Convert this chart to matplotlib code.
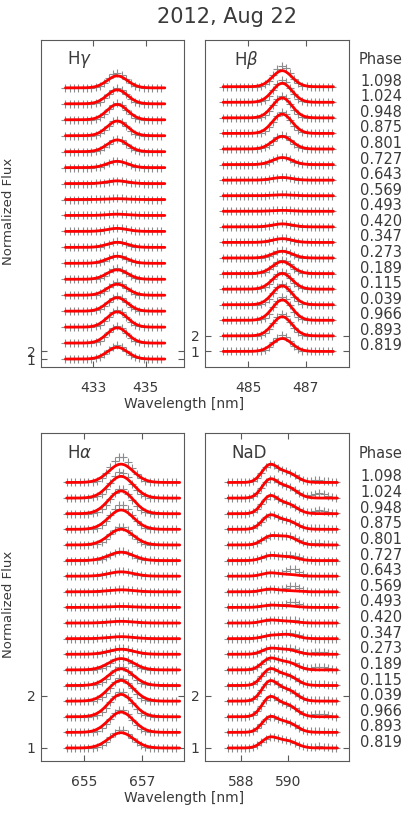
import numpy as np
import matplotlib
matplotlib.use("Agg")
import matplotlib.pyplot as plt
import matplotlib.transforms as mtransforms

# ---------------- data (top spectrum first, phase order as labelled) ----------------
phases = ["1.098", "1.024", "0.948", "0.875", "0.801", "0.727", "0.643", "0.569", "0.493",
          "0.420", "0.347", "0.273", "0.189", "0.115", "0.039", "0.966", "0.893", "0.819"]

# H gamma  (fit amplitude / observed peak amplitude, in plot units)
hg_fit = [1.50, 1.75, 1.92, 1.84, 1.47, 0.79, 0.34, 0.10, 0.16, 0.38, 0.63, 0.88, 1.19, 1.38, 1.69, 1.92, 1.92, 1.47]
hg_obs = [1.88, 2.00, 2.13, 2.00, 1.63, 0.88, 0.38, 0.19, 0.25, 0.44, 0.75, 1.00, 1.38, 1.63, 1.88, 2.13, 2.13, 1.75]
# H beta
hb_fit = [1.03, 1.22, 1.28, 1.24, 0.81, 0.45, 0.17, 0.06, 0.06, 0.19, 0.24, 0.43, 0.77, 1.01, 1.21, 1.31, 1.23, 0.83]
hb_obs = [1.35, 1.41, 1.41, 1.35, 0.90, 0.51, 0.19, 0.10, 0.10, 0.22, 0.29, 0.51, 0.90, 1.12, 1.35, 1.47, 1.41, 1.03]
# H alpha
ha_fit = [0.352, 0.417, 0.437, 0.371, 0.302, 0.160, 0.083, 0.038, 0.019, 0.033, 0.038, 0.096, 0.217, 0.321, 0.398, 0.429, 0.390, 0.294]
ha_obs = [0.500, 0.500, 0.480, 0.480, 0.350, 0.180, 0.096, 0.048, 0.029, 0.038, 0.048, 0.115, 0.240, 0.356, 0.442, 0.480, 0.442, 0.346]
# Na D  (D2 and D1 components)
nad_d2 = [0.315, 0.331, 0.315, 0.248, 0.146, 0.085, 0.058, 0.048, 0.039, 0.052, 0.050, 0.100, 0.200, 0.288, 0.354, 0.348, 0.271, 0.188]
nad_d1 = [0.182, 0.206, 0.182, 0.160, 0.156, 0.071, 0.034, 0.021, 0.029, 0.035, 0.079, 0.088, 0.144, 0.189, 0.210, 0.217, 0.185, 0.134]
nad_obs_bump = [0.000, 0.000, 0.000, 0.000, 0.020, 0.040, 0.110, 0.100, 0.080, 0.030, 0.040, 0.040, 0.020, 0.000, 0.000, 0.000, 0.000, 0.000]
nad_obs_red = [0.045, 0.090, 0.065, 0.030, 0.030, 0.000, 0.000, 0.000, 0.000, 0.000, 0.000, 0.050, 0.060, 0.030, 0.030, 0.060, 0.030, 0.030]

panels = [
    dict(name=r"H$\gamma$", fit=hg_fit, obs=hg_obs, c=433.92, s=0.39, so=0.33,
         x0=431.95, x1=435.73, dx=0.165, step=2.0, ylim=(0.0, 41.0), xlim=(431.02, 436.46),
         xt=[433, 435], rect=[41, 40, 143, 327]),
    dict(name=r"H$\beta$", fit=hb_fit, obs=hb_obs, c=486.18, s=0.34, so=0.29,
         x0=484.13, x1=487.96, dx=0.145, step=1.0, ylim=(0.0, 21.0), xlim=(483.5, 488.5),
         xt=[485, 487], rect=[205, 40, 144, 327]),
    dict(name=r"H$\alpha$", fit=ha_fit, obs=ha_obs, c=656.28, s=0.43, so=0.36,
         x0=654.39, x1=658.32, dx=0.152, step=0.3, ylim=(0.75, 7.05), xlim=(653.5, 658.47),
         xt=[655, 657], rect=[41, 433, 143, 328]),
    dict(name="NaD", d2=nad_d2, d1=nad_d1, c=589.2, c1=589.95, s=0.33, s1=0.40,
         x0=587.46, x1=592.07, dx=0.175, step=0.3, ylim=(0.75, 7.05), xlim=(586.48, 592.56),
         xt=[588, 590], rect=[205, 433, 144, 328]),
]

W, H = 409, 819
TXT = "#3a3a3a"
SP = "#5a5a5a"

fig = plt.figure(figsize=(W / 100, H / 100), dpi=100)


def g(x, a, c, s):
    return a * np.exp(-0.5 * ((x - c) / s) ** 2)


axes = []
for p in panels:
    l, t, w, h = p["rect"]
    ax = fig.add_axes([l / W, 1 - (t + h) / H, w / W, h / H])
    axes.append(ax)
    xd = np.arange(p["x0"], p["x1"] + 1e-6, p["dx"])
    xf = np.linspace(p["x0"], p["x1"], 300)
    n = len(phases)
    for i in range(n):
        lev = 1.0 + (n - 1 - i) * p["step"]
        if p["name"] == "NaD":
            yd = lev + g(xd, p["d2"][i], p["c"], p["s"]) + g(xd, p["d1"][i], p["c1"], p["s1"]) \
                + g(xd, nad_obs_bump[i], 590.2, 0.25) + g(xd, nad_obs_red[i], 591.3, 0.3)
            yf = lev + g(xf, p["d2"][i], p["c"], p["s"]) + g(xf, p["d1"][i], p["c1"], p["s1"])
        else:
            yd = lev + g(xd, p["obs"][i], p["c"], p["so"])
            yf = lev + g(xf, p["fit"][i], p["c"], p["s"])
        ax.plot(xd, yd, linestyle="none", marker="+", ms=6, mew=0.8, color="#8c8c8c", zorder=2)
        ax.plot(xf, yf, color="#ff0000", lw=2.0, zorder=3, solid_capstyle="round")
    ax.set_xlim(*p["xlim"])
    ax.set_ylim(*p["ylim"])
    ax.set_xticks(p["xt"])
    ax.set_xticklabels([str(v) for v in p["xt"]])
    ax.set_yticks([1, 2])
    ax.set_yticklabels(["1", "2"])
    ax.tick_params(direction="in", top=True, right=True, length=4, width=0.8, color=SP,
                   labelsize=10, labelcolor=TXT)
    ax.tick_params(axis="x", pad=10)
    ax.tick_params(axis="y", pad=4)
    for sp in ax.spines.values():
        sp.set_color(SP)
        sp.set_linewidth(0.8)
    ax.text(0.18 if p["name"] != r"H$\beta$" else 0.20, 0.94, p["name"], transform=ax.transAxes,
            ha="left", va="center", fontsize=12, color=TXT)

# phase labels, next to the right-hand panels
for ax, p, phase_y in [(axes[1], panels[1], 0.35), (axes[3], panels[3], 0.105)]:
    trans = mtransforms.blended_transform_factory(fig.transFigure, ax.transData)
    n = len(phases)
    for i, ph in enumerate(phases):
        lev = 1.0 + (n - 1 - i) * p["step"]
        fig.text(360 / W, lev + phase_y, ph, transform=trans, ha="left", va="center",
                 fontsize=10.5, color=TXT)
    ax_top = ax.get_position().y1
    fig.text(359 / W, 1 - (60 if ax is axes[1] else 453) / H, "Phase", ha="left", va="center",
             fontsize=10.5, color=TXT)

fig.text(227 / W, 1 - 17 / H, "2012, Aug 22", ha="center", va="center", fontsize=15, color=TXT)
for yc in (404, 798):
    fig.text(184 / W, 1 - yc / H, "Wavelength [nm]", ha="center", va="center", fontsize=10, color=TXT)
for yc in (211, 604):
    fig.text(9 / W, 1 - yc / H, "Normalized Flux", ha="center", va="center", rotation=90,
             fontsize=9.5, color=TXT)

fig.savefig("out.png", dpi=100, facecolor="white")
